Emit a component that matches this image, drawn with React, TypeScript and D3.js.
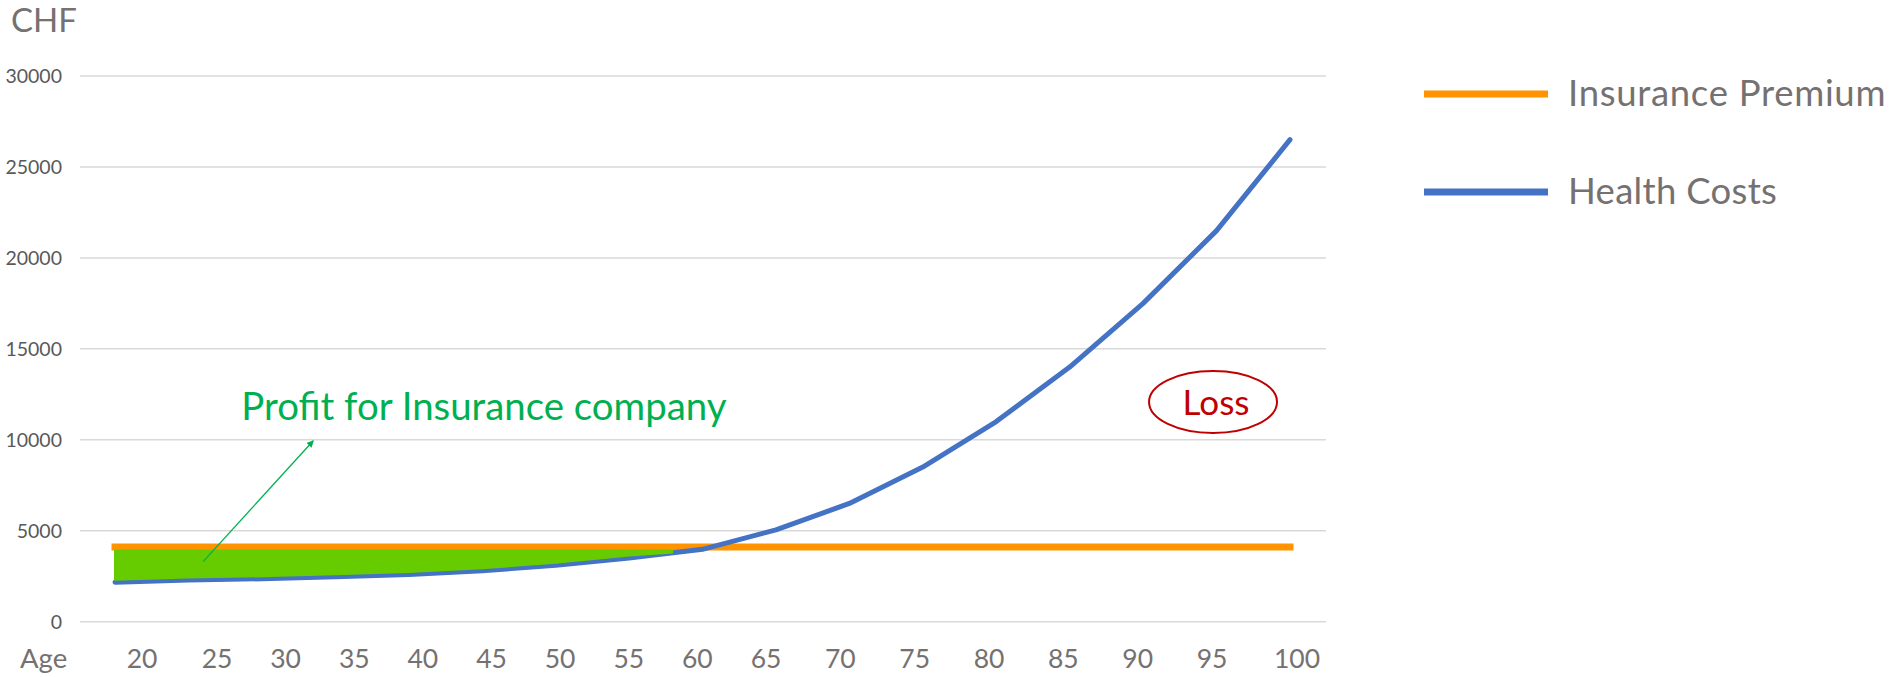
import React from "react";
import * as d3 from "d3";

const ages = [20, 25, 30, 35, 40, 45, 50, 55, 60, 65, 70, 75, 80, 85, 90, 95, 100];
const healthCosts = [2170, 2290, 2360, 2470, 2600, 2800, 3100, 3500, 3980, 5050, 6500, 8500, 11000, 14000, 17500, 21500, 26500];
const premium = [4100, 4100, 4100, 4100, 4100, 4100, 4100, 4100, 4100, 4100, 4100, 4100, 4100, 4100, 4100, 4100, 4100];
const yTicks = [0, 5000, 10000, 15000, 20000, 25000, 30000];
const xTickLabels = ["20", "25", "30", "35", "40", "45", "50", "55", "60", "65", "70", "75", "80", "85", "90", "95", "100"];
const seriesNames = ["Insurance Premium", "Health Costs"];

const W = 1892;
const H = 677;
const FONT = "Lato, 'Open Sans', sans-serif";
const ORANGE = "#ff9300";
const BLUE = "#4472c4";
const GREEN_FILL = "#66cc00";
const GREEN = "#00b050";
const RED = "#c00000";
const GRAY = "#767171";
const TICK = "#595959";

export default function App() {
  const x = d3.scaleLinear().domain([20, 100]).range([115, 1290]);
  const y = d3.scaleLinear().domain([0, 30000]).range([621.7, 76]);
  // tick label placement (labels sit slightly off the data points, as in the original)
  const xLab = d3.scaleLinear().domain([20, 25, 65, 95, 100]).range([142, 217, 766, 1212, 1297]);

  const pts = ages.map((a, i) => ({ a, h: healthCosts[i], p: premium[i] }));
  const line = d3.line<{ a: number; v: number }>().x((d) => x(d.a)).y((d) => y(d.v));
  const healthPath = line(pts.map((d) => ({ a: d.a, v: d.h })))!;
  const premiumPath = line(pts.map((d) => ({ a: d.a, v: d.p })))!;

  const profitPts = pts.filter((d) => d.a <= 60);
  const area = d3
    .area<{ a: number; h: number; p: number }>()
    .x((d) => x(d.a))
    .y1((d) => y(d.p) + 3.5)
    .y0((d) => Math.max(y(d.h) - 2.5, y(d.p) + 3.5));
  const profitPath = area(profitPts)!;
  const profitEndAge = 58;

  const arrowFrom = { a: 26, v: 3300 };
  const arrowTo = { a: 33.5, v: 9950 };
  const profitLabel = { a: 28.6, v: 11090 };
  const loss = { a: 94.76, v: 12080 };

  const gx0 = 80;
  const gx1 = 1326;

  return (
    <svg width={W} height={H} style={{ position: "absolute", left: 0, top: 0, display: "block", background: "#fff" }} fontFamily={FONT}>
      <defs>
        <marker id="arr" viewBox="0 0 10 10" refX="9" refY="5" markerWidth="7" markerHeight="7" orient="auto-start-reverse" markerUnits="userSpaceOnUse">
          <path d="M0,0 L10,5 L0,10 z" fill={GREEN} />
        </marker>
        <clipPath id="profitClip">
          <rect x={0} y={0} width={x(profitEndAge)} height={H} />
        </clipPath>
      </defs>
      <rect x={0} y={0} width={W} height={H} fill="#fff" />
      {/* gridlines */}
      {yTicks.map((t) => (
        <g key={t}>
          <line x1={gx0} x2={gx1} y1={y(t)} y2={y(t)} stroke="#d9d9d9" strokeWidth={1.5} />
          <text x={62} y={y(t)} dy="0.35em" textAnchor="end" fontSize={19.5} fill={TICK}>
            {t}
          </text>
        </g>
      ))}
      {/* axis titles */}
      <text x={11} y={32} fontSize={33} fill={GRAY}>CHF</text>
      <text x={20} y={668} fontSize={27.5} fill={GRAY}>Age</text>
      {xTickLabels.map((l, i) => (
        <text key={l} x={xLab(ages[i])} y={668} textAnchor="middle" fontSize={26.5} fill={GRAY}>
          {l}
        </text>
      ))}

      {/* series */}
      <path d={premiumPath} fill="none" stroke={ORANGE} strokeWidth={7} strokeLinecap="square" />
      <path d={healthPath} fill="none" stroke={BLUE} strokeWidth={5} strokeLinecap="round" strokeLinejoin="round" />
      <path d={profitPath} fill={GREEN_FILL} stroke={GREEN_FILL} strokeWidth={2} strokeLinejoin="round" clipPath="url(#profitClip)" />

      {/* annotations */}
      <line x1={x(arrowFrom.a)} y1={y(arrowFrom.v)} x2={x(arrowTo.a)} y2={y(arrowTo.v)} stroke={GREEN} strokeWidth={1.3} markerEnd="url(#arr)" />
      <text x={x(profitLabel.a)} y={y(profitLabel.v)} fontSize={38.4} fill={GREEN}>
        Profit for Insurance company
      </text>
      <ellipse cx={x(loss.a)} cy={y(loss.v)} rx={64} ry={31} fill="none" stroke={RED} strokeWidth={2} />
      <text x={x(loss.a) + 3} y={y(loss.v) + 13} textAnchor="middle" fontSize={35} fill={RED}>
        Loss
      </text>

      {/* legend */}
      {seriesNames.map((n, i) => (
        <g key={n}>
          <line x1={1424} x2={1548} y1={94 + i * 98} y2={94 + i * 98} stroke={i === 0 ? ORANGE : BLUE} strokeWidth={7} />
          <text x={1568} y={106 + i * 98} fontSize={36.5} fill={GRAY} letterSpacing={i === 0 ? 0.7 : 0.3}>
            {n}
          </text>
        </g>
      ))}
    </svg>
  );
}
